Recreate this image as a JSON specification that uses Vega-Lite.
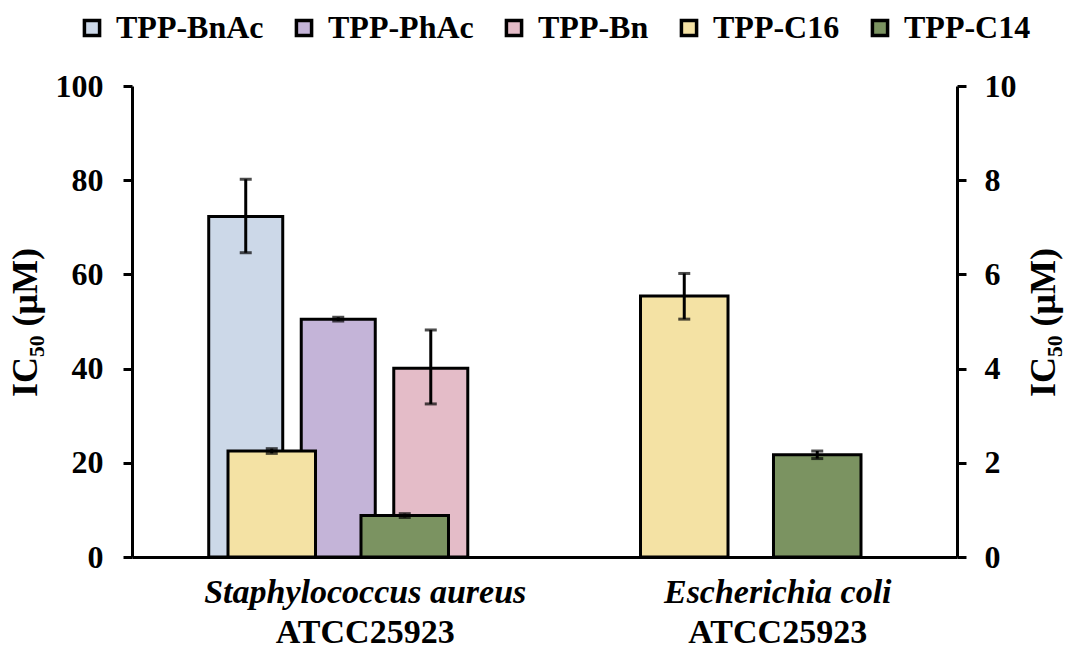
{
  "$schema": "https://vega.github.io/schema/vega-lite/v6.json",
  "width": 825,
  "height": 471,
  "autosize": {"type": "none"},
  "padding": {"left": 132, "top": 86, "right": 111, "bottom": 91},
  "background": "white",
  "config": {"view": {"stroke": null}, "font": "Liberation Serif"},
  "data": {
    "values": [
      {"organism": "Staphylococcus aureus", "compound": "TPP-BnAc", "axis": "primary", "ic50": 72.3, "lo": 64.6, "hi": 80.2},
      {"organism": "Staphylococcus aureus", "compound": "TPP-PhAc", "axis": "primary", "ic50": 50.5, "lo": 50.1, "hi": 50.9},
      {"organism": "Staphylococcus aureus", "compound": "TPP-Bn", "axis": "primary", "ic50": 40.1, "lo": 32.5, "hi": 48.2},
      {"organism": "Staphylococcus aureus", "compound": "TPP-C16", "axis": "secondary", "ic50": 2.25, "lo": 2.2, "hi": 2.3},
      {"organism": "Staphylococcus aureus", "compound": "TPP-C14", "axis": "secondary", "ic50": 0.88, "lo": 0.84, "hi": 0.92},
      {"organism": "Escherichia coli", "compound": "TPP-C16", "axis": "secondary", "ic50": 5.54, "lo": 5.05, "hi": 6.02},
      {"organism": "Escherichia coli", "compound": "TPP-C14", "axis": "secondary", "ic50": 2.17, "lo": 2.09, "hi": 2.25}
    ]
  },
  "layer": [
    {
      "transform": [{"filter": "datum.axis === 'primary'"}],
      "encoding": {
        "x": {
          "field": "organism", "type": "nominal",
          "scale": {"domain": ["Staphylococcus aureus", "Escherichia coli"], "paddingInner": 0.372, "paddingOuter": 0.186},
          "axis": {
            "orient": "bottom", "title": null, "ticks": false,
            "domainColor": "black", "domainWidth": 3,
            "labelFont": "Liberation Serif", "labelFontStyle": "italic", "labelFontWeight": "bold",
            "labelFontSize": 34, "labelColor": "black", "labelAngle": 0, "labelPadding": 18,
            "labelOffset": 27, "labelLimit": 600
          }
        },
        "xOffset": {
          "field": "compound", "type": "nominal",
          "scale": {"domain": ["TPP-BnAc", "TPP-PhAc", "TPP-Bn"], "paddingInner": 0.2, "paddingOuter": 0}
        }
      },
      "layer": [
        {
          "mark": {"type": "bar", "stroke": "black", "strokeWidth": 3},
          "encoding": {
            "y": {
              "field": "ic50", "type": "quantitative",
              "scale": {"domain": [0, 100]},
              "axis": {
                "orient": "left", "values": [0, 20, 40, 60, 80, 100], "grid": false,
                "domainColor": "black", "domainWidth": 3,
                "tickColor": "black", "tickWidth": 3, "tickSize": 9,
                "labelFont": "Liberation Serif", "labelFontSize": 32, "labelFontWeight": "bold",
                "labelColor": "black", "labelPadding": 20,
                "title": "IC₅₀ (μM)", "titleFont": "Liberation Serif", "titleFontSize": 36,
                "titleFontWeight": "bold", "titleColor": "black",
                "titleX": -107, "titleY": 236, "titleAngle": 270,
                "titleAlign": "center", "titleBaseline": "middle"
              }
            },
            "color": {
              "field": "compound", "type": "nominal",
              "scale": {
                "domain": ["TPP-BnAc", "TPP-PhAc", "TPP-Bn", "TPP-C16", "TPP-C14"],
                "range": ["#CCD8E8", "#C4B4D8", "#E4BCC8", "#F4E2A4", "#7B9361"]
              },
              "legend": {
                "orient": "none", "legendX": -56, "legendY": -74, "direction": "horizontal",
                "title": null, "symbolType": "square", "symbolSize": 230,
                "symbolStrokeColor": "black", "symbolStrokeWidth": 3.5, "symbolOpacity": 1,
                "labelFont": "Liberation Serif", "labelFontSize": 32, "labelFontWeight": "bold",
                "labelColor": "black", "labelLimit": 400, "labelOffset": 8, "columnPadding": 24
              }
            }
          }
        },
        {
          "mark": {"type": "rule", "color": "black", "strokeWidth": 3},
          "encoding": {
            "y": {"field": "lo", "type": "quantitative", "title": "IC₅₀ (μM)"},
            "y2": {"field": "hi"}
          }
        },
        {
          "mark": {"type": "tick", "color": "black", "thickness": 3, "size": 12},
          "encoding": {"y": {"field": "lo", "type": "quantitative", "title": "IC₅₀ (μM)"}}
        },
        {
          "mark": {"type": "tick", "color": "black", "thickness": 3, "size": 12},
          "encoding": {"y": {"field": "hi", "type": "quantitative", "title": "IC₅₀ (μM)"}}
        }
      ]
    },
    {
      "transform": [{"filter": "datum.axis === 'secondary'"}],
      "encoding": {
        "x": {
          "field": "organism", "type": "nominal",
          "scale": {"domain": ["Staphylococcus aureus", "Escherichia coli"], "paddingInner": 0.372, "paddingOuter": 0.186},
          "axis": {
            "orient": "bottom", "title": null, "ticks": false, "domain": false,
            "labelExpr": "'ATCC25923'",
            "labelFont": "Liberation Serif", "labelFontWeight": "bold",
            "labelFontSize": 34, "labelColor": "black", "labelAngle": 0, "labelPadding": 58,
            "labelOffset": 27, "labelLimit": 600
          }
        },
        "xOffset": {
          "field": "compound", "type": "nominal",
          "scale": {"domain": ["TPP-C16", "TPP-C14"], "paddingInner": 0.342, "paddingOuter": 0.145}
        }
      },
      "layer": [
        {
          "mark": {"type": "bar", "stroke": "black", "strokeWidth": 3},
          "encoding": {
            "y": {
              "field": "ic50", "type": "quantitative",
              "scale": {"domain": [0, 10]},
              "axis": {
                "orient": "right", "values": [0, 2, 4, 6, 8, 10], "grid": false,
                "domainColor": "black", "domainWidth": 3,
                "tickColor": "black", "tickWidth": 3, "tickSize": 9,
                "labelFont": "Liberation Serif", "labelFontSize": 32, "labelFontWeight": "bold",
                "labelColor": "black", "labelPadding": 18,
                "title": "IC₅₀ (μM)", "titleFont": "Liberation Serif", "titleFontSize": 36,
                "titleFontWeight": "bold", "titleColor": "black",
                "titleX": 86, "titleY": 236, "titleAngle": 270,
                "titleAlign": "center", "titleBaseline": "middle"
              }
            },
            "color": {
              "field": "compound", "type": "nominal",
              "scale": {
                "domain": ["TPP-BnAc", "TPP-PhAc", "TPP-Bn", "TPP-C16", "TPP-C14"],
                "range": ["#CCD8E8", "#C4B4D8", "#E4BCC8", "#F4E2A4", "#7B9361"]
              }
            }
          }
        },
        {
          "mark": {"type": "rule", "color": "black", "strokeWidth": 3},
          "encoding": {
            "y": {"field": "lo", "type": "quantitative", "title": "IC₅₀ (μM)"},
            "y2": {"field": "hi"}
          }
        },
        {
          "mark": {"type": "tick", "color": "black", "thickness": 3, "size": 12},
          "encoding": {"y": {"field": "lo", "type": "quantitative", "title": "IC₅₀ (μM)"}}
        },
        {
          "mark": {"type": "tick", "color": "black", "thickness": 3, "size": 12},
          "encoding": {"y": {"field": "hi", "type": "quantitative", "title": "IC₅₀ (μM)"}}
        }
      ]
    }
  ],
  "resolve": {
    "scale": {"y": "independent", "xOffset": "independent"},
    "axis": {"y": "independent", "x": "independent"}
  }
}
